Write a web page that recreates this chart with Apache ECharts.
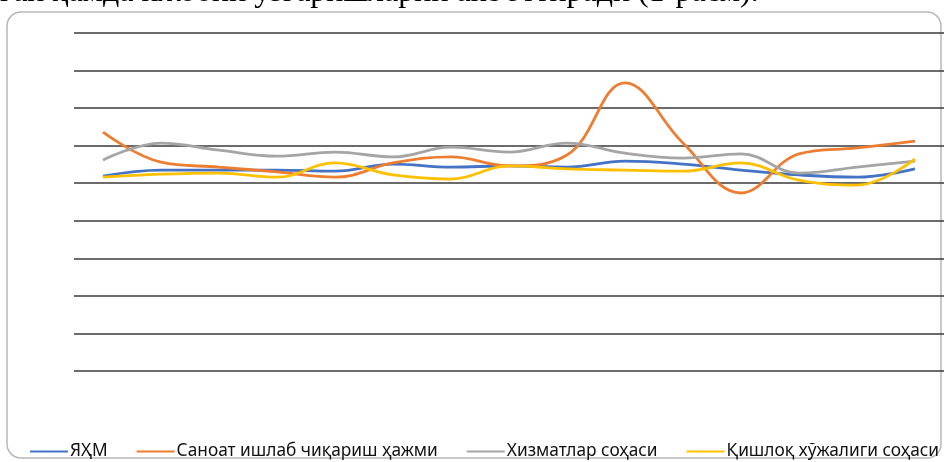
<!DOCTYPE html>
<html>
<head>
<meta charset="utf-8">
<script src="https://cdn.jsdelivr.net/npm/echarts@6/dist/echarts.min.js"></script>
<style>
  html, body { margin: 0; padding: 0; background: #fff; overflow: hidden; }
  #chart { width: 944px; height: 462px; }
</style>
</head>
<body>
<div id="chart"></div>
<script>
// йиллар (ўқда кўринмайди)
const years = ['2004', '2005', '2006', '2007', '2008', '2009', '2010', '2011',
  '2012', '2013', '2014', '2015', '2016', '2017', '2018']

// серия қийматлари
const yaxm = [51.9, 53.5, 53.5, 53.5, 53.2, 55.1, 54.3, 54.6, 54.3, 55.9, 55.1, 53.5, 52.2, 51.6, 53.8]
const sanoat = [63.6, 55.6, 54.3, 53.0, 51.6, 55.4, 57.0, 54.6, 57.5, 76.7, 60.7, 47.4, 57.8, 59.4, 61.2]
const xizmat = [56.2, 60.7, 58.8, 57.2, 58.3, 57.0, 59.6, 58.3, 60.7, 58.0, 56.7, 57.8, 52.7, 54.3, 55.9]
const qishloq = [51.6, 52.4, 52.7, 51.6, 55.4, 52.2, 51.1, 54.6, 53.8, 53.5, 53.2, 55.4, 50.8, 49.5, 56.4]

const names = ['ЯҲМ', 'Саноат ишлаб чиқариш ҳажми', 'Хизматлар соҳаси', 'Қишлоқ хўжалиги соҳаси']
const colors = ['#4472C4', '#ED7D31', '#A5A5A5', '#FFC000']
const values = [yaxm, sanoat, xizmat, qishloq]

const myChart = echarts.init(document.getElementById('chart'))

const series = []
for (let i = 0; i < names.length; i++) {
  series.push({
    name: names[i],
    type: 'line',
    data: values[i],
    smooth: 0.4,
    showSymbol: false,
    lineStyle: { width: 2.8, color: colors[i] },
    itemStyle: { color: colors[i] },
    z: 3 + i
  })
}

const options = {
  animation: false,
  graphic: [
    {
      type: 'text',
      left: 0,
      top: -23,
      style: {
        text: 'ган ҳамда ижобий ўзгаришларни акс эттиради (1-расм).',
        font: '32px "Liberation Serif"',
        fill: '#000'
      }
    },
    {
      type: 'rect',
      shape: { x: 7, y: 12, width: 934, height: 446, r: 14 },
      style: { fill: 'none', stroke: '#b8b8b8', lineWidth: 1.5 },
      z: -1
    }
  ],
  grid: {
    left: 74,
    right: -14,
    top: 33,
    bottom: 91
  },
  legend: {
    bottom: 2,
    left: 30,
    width: 944,
    padding: 0,
    icon: 'rect',
    itemWidth: 38,
    itemHeight: 2,
    itemGap: 29,
    textStyle: { fontFamily: 'Noto Sans', fontSize: 17.3, color: '#111', padding: [0, 0, 0, -3] },
    data: names
  },
  xAxis: {
    type: 'category',
    data: years,
    boundaryGap: true,
    axisLine: { show: false },
    axisTick: { show: false },
    axisLabel: { show: false }
  },
  yAxis: {
    type: 'value',
    min: 0,
    max: 90,
    interval: 10,
    axisLabel: { show: false },
    splitLine: { lineStyle: { color: '#3a3a3a', width: 1.5 } }
  },
  series: series
}
myChart.setOption(options)
window.onresize = myChart.resize
</script>
</body>
</html>
